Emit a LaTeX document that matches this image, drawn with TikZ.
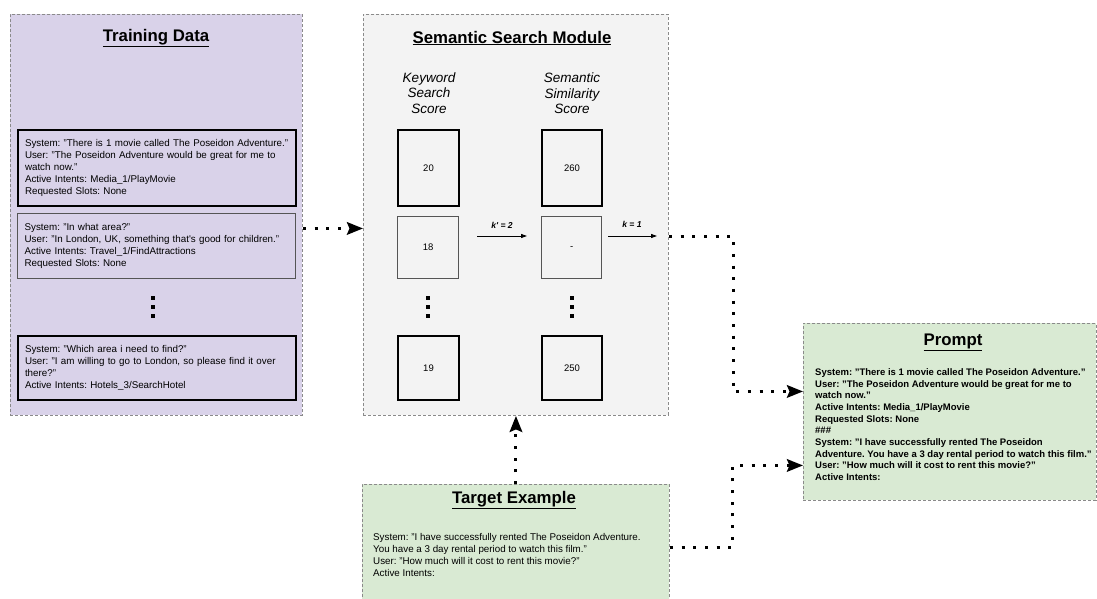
\documentclass[tikz,border=0pt]{standalone}
\usepackage{fontspec}
\setmainfont{Liberation Sans}
\usetikzlibrary{arrows.meta}

\definecolor{lav}{HTML}{D9D2E9}
\definecolor{panel}{HTML}{F3F3F3}
\definecolor{mint}{HTML}{D9EAD3}
\definecolor{edge}{HTML}{8A8A8A}
\definecolor{softline}{HTML}{555555}

\frenchspacing
\hyphenpenalty=10000
\exhyphenpenalty=10000

\tikzset{
  group/.style={draw=edge, dash pattern=on 3pt off 2pt, line width=0.9pt,
    inner sep=0pt, anchor=north west},
  heading/.style={font=\bfseries\fontsize{16.8}{19}\selectfont, inner sep=0pt},
  body/.style={font=\fontsize{9.8}{11.8}\selectfont},
  sample/.style={draw, body, anchor=north west, text width=264pt,
    inner xsep=7pt, inner ysep=0pt, align=left},
  strong/.style={line width=2pt},
  light/.style={draw=softline, line width=1.2pt},
  colhead/.style={font=\itshape\fontsize{13.5}{15.6}\selectfont, align=center, inner sep=0pt},
  score/.style={draw, anchor=north west, inner sep=0pt,
    font=\fontsize{9.5}{11}\selectfont},
  dotsq/.style={fill=black, minimum size=3.6pt, inner sep=0pt},
  klabel/.style={font=\bfseries\itshape\fontsize{8.6}{10}\selectfont, inner sep=0pt},
  thinarrow/.style={line width=0.9pt, -{Triangle[length=6pt,width=4pt]}},
  dotarrow/.style={line width=3pt, dash pattern=on 3pt off 8.7pt,
    -{Stealth[length=16pt,width=12.5pt,inset=2.5pt]}},
  plaintext/.style={anchor=north west, inner sep=0pt, align=left},
}

\begin{document}
\begin{tikzpicture}[x=1pt, y=-1pt]
\useasboundingbox (0,0) rectangle (1097,599);

% ---- Training data panel ----
\node[group, fill=lav, minimum width=292pt, minimum height=401pt] (train) at (10,14) {};
\node[heading] (trainttl) at (156,38) {\underline{Training Data}};

\node[sample, strong, minimum height=76pt] (s1) at (17,129)
  {System: "There is 1 movie called The Poseidon Adventure."\\
   User: "The Poseidon Adventure would be great for me to\\
   watch now."\\
   Active Intents: Media\_1/PlayMovie\\
   Requested Slots: None};
\node[sample, light, minimum height=65pt] (s2) at (17,213)
  {System: "In what area?"\\
   User: "In London, UK, something that\textquotesingle s good for children."\\
   Active Intents: Travel\_1/FindAttractions\\
   Requested Slots: None};
\foreach \yy [count=\i] in {298,307,316}
  \node[dotsq] (tdot\i) at (153,\yy) {};
\node[sample, strong, minimum height=64pt] (s3) at (17,335)
  {System: "Which area i need to find?"\\
   User: "I am willing to go to London, so please find it over\\
   there?"\\
   Active Intents: Hotels\_3/SearchHotel};

% ---- Semantic search module ----
\node[group, fill=panel, minimum width=305pt, minimum height=401pt] (ssm) at (363,14) {};
\node[heading] (ssmttl) at (512,38) {\underline{Semantic Search Module}};
\node[colhead] (kwhead) at (429,93) {Keyword\\Search\\Score};
\node[colhead] (semhead) at (572,93.5) {Semantic\\Similarity\\Score};

\node[score, strong, minimum width=61pt, minimum height=76pt] (kw1) at (397,129) {20};
\node[score, light, minimum width=61pt, minimum height=62pt] (kw2) at (397,216) {18};
\node[score, strong, minimum width=61pt, minimum height=64pt] (kw3) at (397,335) {19};
\node[score, strong, minimum width=60pt, minimum height=76pt] (sm1) at (541,129) {260};
\node[score, light, minimum width=60pt, minimum height=62pt] (sm2) at (541,216) {-};
\node[score, strong, minimum width=60pt, minimum height=64pt] (sm3) at (541,335) {250};
\foreach \yy [count=\i] in {298,307,316} {
  \node[dotsq] (kdot\i) at (428,\yy) {};
  \node[dotsq] (sdot\i) at (572,\yy) {};
}

\coordinate (kpa) at (477,236);
\coordinate (kpb) at (527,236);
\draw[thinarrow] (kpa) -- (kpb);
\node[klabel] (kplbl) at (502,225) {k\textquotesingle\ = 2};

\coordinate (ka) at (608,236);
\coordinate (kb) at (657,236.5);
\draw[thinarrow] (ka) -- (ka -| kb);
\node[klabel] (klbl) at (632,224) {k = 1};

% ---- Target example ----
\node[group, fill=mint, minimum width=307pt, minimum height=126pt] (target) at (362,484) {};
\node[heading] (targetttl) at (514,500) {\underline{Target Example}};
\node[plaintext, body] (targettxt) at (373,533.5)
  {System: "I have successfully rented The Poseidon Adventure.\\
   You have a 3 day rental period to watch this film."\\
   User: "How much will it cost to rent this movie?"\\
   Active Intents:};

% ---- Prompt ----
\node[group, fill=mint, minimum width=292.5pt, minimum height=177pt] (prompt) at (803,323) {};
\node[heading] (promptttl) at (953,342) {\underline{Prompt}};
\node[plaintext, font=\bfseries\fontsize{9.5}{11.65}\selectfont] (prompttxt) at (815,368.5)
  {System: "There is 1 movie called The Poseidon Adventure."\\
   User: "The Poseidon Adventure would be great for me to\\
   watch now."\\
   Active Intents: Media\_1/PlayMovie\\
   Requested Slots: None\\
   \#\#\#\\
   System: "I have successfully rented The Poseidon\\
   Adventure. You have a 3 day rental period to watch this film."\\
   User: "How much will it cost to rent this movie?"\\
   Active Intents:};

% ---- Dotted connectors ----
\coordinate (bendA) at (733.5,300);
\coordinate (bendB) at (732.5,500);
\draw[dotarrow] ([yshift=-13.5pt]train.east) -- ([yshift=-13.5pt]ssm.west);
\draw[dotarrow] (ssm.east |- kb) -| (bendA) |- ([yshift=20.5pt]prompt.west);
\draw[dotarrow] (target.north) -- (ssm.south);
\draw[dotarrow] (target.east) -| (bendB) |- ([yshift=-53.5pt]prompt.west);
\end{tikzpicture}
\end{document}
